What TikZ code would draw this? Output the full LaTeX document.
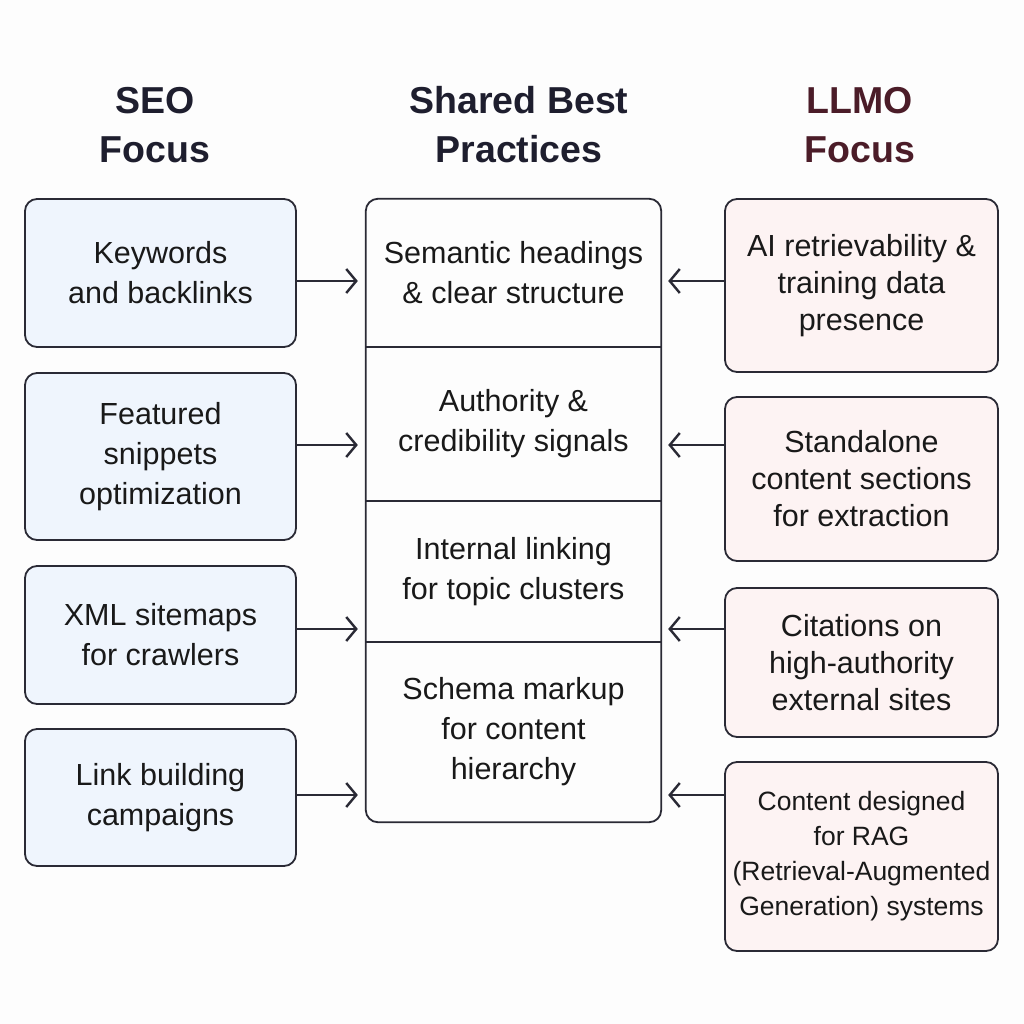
\documentclass[tikz,border=0pt]{standalone}
\usepackage{fontspec}
\setmainfont{Liberation Sans}
\usetikzlibrary{arrows.meta}
\definecolor{inkdark}{HTML}{2A2A35}
\definecolor{headdark}{HTML}{1E1E2E}
\definecolor{headred}{HTML}{4B1C28}
\definecolor{seofill}{HTML}{EFF5FD}
\definecolor{llmofill}{HTML}{FDF3F3}
\definecolor{pagebg}{HTML}{FDFDFD}
\tikzset{
  box/.style={draw=inkdark,line width=1.8pt,rounded corners=12pt},
  seobox/.style={box,fill=seofill,minimum width=271pt,align=center,inner sep=0pt,
    text=black!90,font=\fontsize{30.5}{40}\selectfont},
  llmobox/.style={box,fill=llmofill,minimum width=273pt,align=center,inner sep=0pt,
    text=black!90,font=\fontsize{30.5}{37}\selectfont},
  part/.style={minimum width=295pt,align=center,inner sep=0pt,
    text=black!90,font=\fontsize{30.5}{40}\selectfont},
  head/.style={align=center,font=\bfseries\fontsize{37.5}{49}\selectfont},
  link/.style={draw=inkdark,line width=2.4pt,-{Straight Barb[length=10pt,width=24pt]}},
}
\begin{document}
\begin{tikzpicture}[x=1pt,y=-1pt]
\fill[pagebg] (0,0) rectangle (1024,1024);
\useasboundingbox (0,0) rectangle (1024,1024);

% column titles
\node[head,text=headdark] (seohead) at (155,125) {SEO\\Focus};
\node[head,text=headdark] (sharedhead) at (519,125) {Shared Best\\Practices};
\node[head,text=headred] (llmohead) at (860,125) {LLMO\\Focus};

% SEO column
\node[seobox,minimum height=148pt] (seo1) at (160.5,273) {Keywords\\and backlinks};
\node[seobox,minimum height=167pt] (seo2) at (160.5,456.5) {Featured\\snippets\\optimization};
\node[seobox,minimum height=138pt] (seo3) at (160.5,635) {XML sitemaps\\for crawlers};
\node[seobox,minimum height=137pt] (seo4) at (160.5,797.5) {Link building\\campaigns};

% shared column
\node[part,minimum height=148pt] (sem) at (513.5,273) {Semantic headings\\\& clear structure};
\node[part,minimum height=154pt] (auth) at (513.5,424) {Authority \&\\credibility signals};
\node[part,minimum height=141pt] (intl) at (513.5,571.5) {Internal linking\\for topic clusters};
\node[part,minimum height=180pt] (schema) at (513.5,732) {Schema markup\\for content\\hierarchy};
\draw[box] (sem.north west) rectangle (schema.south east);
\draw[inkdark,line width=1.8pt] (sem.south west) -- (sem.south east);
\draw[inkdark,line width=1.8pt] (auth.south west) -- (auth.south east);
\draw[inkdark,line width=1.8pt] (intl.south west) -- (intl.south east);

% LLMO column
\node[llmobox,minimum height=173pt] (llmo1) at (861.5,285.5) {AI retrievability \&\\training data\\presence};
\node[llmobox,minimum height=164pt] (llmo2) at (861.5,479) {Standalone\\content sections\\for extraction};
\node[llmobox,minimum height=149pt] (llmo3) at (861.5,662.5) {Citations on\\high-authority\\external sites};
\node[llmobox,minimum height=189pt,font=\fontsize{26.5}{35}\selectfont] (llmo4) at (861.5,856.5)
  {Content designed\\for RAG\\(Retrieval-Augmented\\Generation) systems};

% arrows
\coordinate (row1) at (0,281);
\coordinate (row2) at (0,445);
\coordinate (row3) at (0,629);
\coordinate (row4) at (0,795);
\foreach \i in {1,2,3,4} {
  \draw[link,shorten >=8pt] (seo\i.east |- row\i) -- (sem.west |- row\i);
  \draw[link,shorten >=7pt] (llmo\i.west |- row\i) -- (sem.east |- row\i);
}

\end{tikzpicture}
\end{document}
